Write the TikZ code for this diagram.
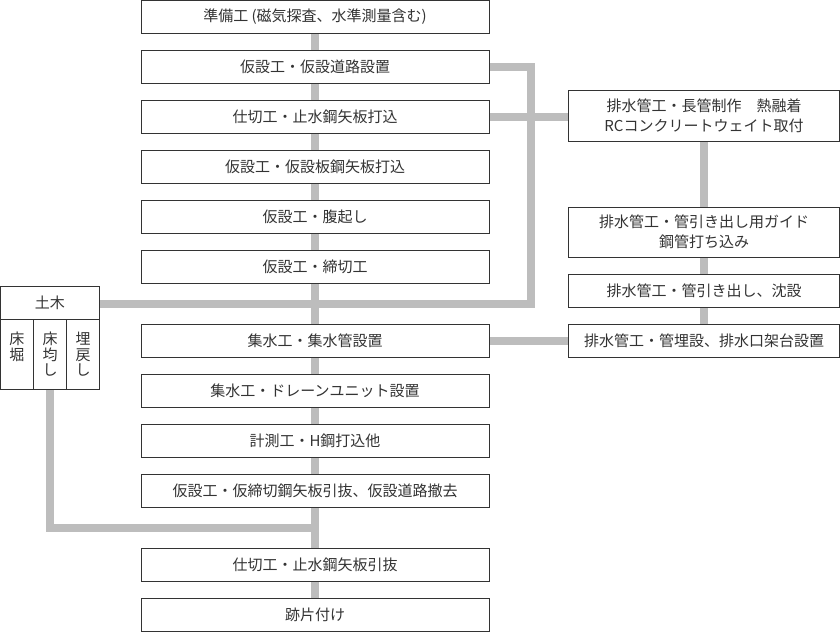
\documentclass[tikz,border=0pt]{standalone}
\usepackage{fontspec}
\setmainfont{Noto Sans CJK JP}
\usetikzlibrary{backgrounds}
\definecolor{linegray}{HTML}{BDBDBD}
\definecolor{ink}{HTML}{333333}
\begin{document}
\begin{tikzpicture}[x=1pt,y=-1pt,
  box/.style={draw=ink, line width=1pt, fill=white, text=ink,
    font=\fontsize{15}{19.5}\selectfont, inner sep=0pt, align=center},
  mainbox/.style={box, minimum width=348pt, minimum height=33pt},
  sidebox/.style={box, minimum width=271pt},
  colbox/.style={box, minimum width=33.17pt, minimum height=70pt,
    font=\fontsize{15}{15.5}\selectfont},
  conn/.style={draw=linegray, line width=7.5pt}]
\useasboundingbox (0,0) rectangle (840,632);

% main column
\node[mainbox] (b0)  at (315,17)  {準備工 (磁気探査、水準測量含む)};
\node[mainbox] (b1)  at (315,67)  {仮設工・仮設道路設置};
\node[mainbox] (b2)  at (315,117) {仕切工・止水鋼矢板打込};
\node[mainbox] (b3)  at (315,167) {仮設工・仮設板鋼矢板打込};
\node[mainbox] (b4)  at (315,217) {仮設工・腹起し};
\node[mainbox] (b5)  at (315,267) {仮設工・締切工};
\node[mainbox] (b6)  at (315,341) {集水工・集水管設置};
\node[mainbox] (b7)  at (315,391) {集水工・ドレーンユニット設置};
\node[mainbox] (b8)  at (315,441) {計測工・H鋼打込他};
\node[mainbox] (b9)  at (315,491) {仮設工・仮締切鋼矢板引抜、仮設道路撤去};
\node[mainbox] (b10) at (315,565) {仕切工・止水鋼矢板引抜};
\node[mainbox] (b11) at (315,615) {跡片付け};

% side column
\node[sidebox, minimum height=51pt] (sA) at (704,116)
  {排水管工・長管制作　熱融着\\RCコンクリートウェイト取付};
\node[sidebox, minimum height=50pt] (sB) at (704,232)
  {排水管工・管引き出し用ガイド\\鋼管打ち込み};
\node[sidebox, minimum height=33pt] (sC) at (704,290.5)
  {排水管工・管引き出し、沈設};
\node[sidebox, minimum height=33pt] (sD) at (704,341)
  {排水管工・管埋設、排水口架台設置};

% doboku block
\node[box, minimum width=98.5pt, minimum height=33pt] (dh) at (49.75,303) {土木};
\node[colbox] (c1) at (16.83,354.5) {床\\堀\\\phantom{し}};
\node[colbox] (c2) at (50,354.5) {床\\均\\し};
\node[colbox] (c3) at (83.17,354.5) {埋\\戻\\し};

\coordinate (j1) at (531,304);
\coordinate (j2) at (315,528);

\begin{scope}[on background layer]
  \foreach \a/\b in {b0/b1,b1/b2,b2/b3,b3/b4,b4/b5,b5/b6,b6/b7,b7/b8,b8/b9,b9/b10,b10/b11}
    \draw[conn] (\a.south) -- (\b.north);
  \foreach \a/\b in {sA/sB,sB/sC,sC/sD}
    \draw[conn] (\a.south) -- (\b.north);
  \draw[conn] (b1.east) -| (j1) -- (dh.east |- j1);
  \draw[conn] (b2.east) -- (sA.west |- b2.east);
  \draw[conn] (b6.east) -- (sD.west);
  \draw[conn] (c2.south) |- (j2);
\end{scope}
\end{tikzpicture}
\end{document}
